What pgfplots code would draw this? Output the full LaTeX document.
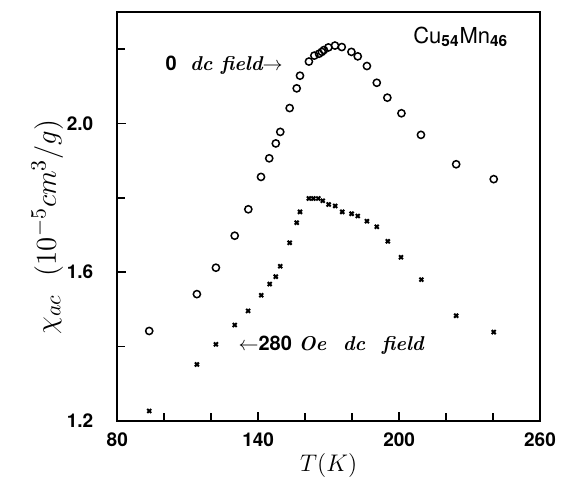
\documentclass[border=0pt]{standalone}
\usepackage{pgfplots}
\pgfplotsset{compat=1.18}
\usepackage{fontspec}
\newfontfamily\hv{TeX Gyre Heros}
\begin{document}
\begin{tikzpicture}
\begin{axis}[
  scale only axis, width=211.4pt, height=204.7pt,
  xmin=80, xmax=260, ymin=1.2, ymax=2.3,
  axis line style={line width=1.1pt},
  xtick={80,140,200,260}, xticklabels={80,140,200,260},
  minor xtick={100,120,160,180,220,240},
  ytick={1.2,1.6,2.0}, yticklabels={1.2,1.6,2.0},
  minor ytick={1.4,1.8,2.2},
  tick align=inside, xtick pos=bottom, ytick pos=left,
  major tick length=4.5pt, minor tick length=4pt,
  every tick/.style={line width=0.8pt, black},
  ticklabel style={font=\hv\bfseries\fontsize{9.5}{10}\selectfont},
  xticklabel style={yshift=-2.5pt},
  yticklabel style={xshift=-8.5pt},
  xlabel={$T(K)$},
  ylabel={$\chi_{ac}\ \ (10^{-5}cm^3/g)$},
  xlabel style={font=\fontsize{13}{15}\selectfont, at={(axis description cs:0.5,0)}, anchor=center, yshift=-22pt},
  ylabel style={font=\fontsize{15.5}{17}\selectfont, at={(axis description cs:-0.1656,0.474)}, anchor=center},
  clip=false,
]
\coordinate (sw) at (rel axis cs:0,0);
\coordinate (ne) at (rel axis cs:1,1);
% zero dc field (circles)
\addplot[only marks, mark=o, mark size=1.8pt, line width=0.75pt, black] coordinates {
(93.6,1.442) (113.9,1.541) (122.0,1.612) (130.0,1.698) (135.8,1.769)
(141.2,1.856) (144.7,1.906) (147.5,1.946) (149.4,1.977) (153.4,2.041)
(156.4,2.094) (157.8,2.128) (161.6,2.166) (163.9,2.182) (165.9,2.187)
(167.1,2.192) (168.0,2.197) (169.9,2.204) (172.7,2.209) (175.6,2.205)
(179.7,2.192) (182.4,2.180) (186.3,2.154) (190.5,2.109) (195.0,2.069)
(201.0,2.027) (209.3,1.969) (224.3,1.890) (240.3,1.850)
};
% 280 Oe dc field (crosses)
\addplot[only marks, mark=x, mark size=1.4pt, line width=1pt, black] coordinates {
(93.6,1.227) (113.9,1.352) (122.0,1.406) (130.0,1.458) (135.7,1.496)
(141.3,1.538) (144.9,1.568) (147.5,1.588) (149.4,1.616) (153.4,1.679)
(156.4,1.733) (157.8,1.762) (161.6,1.798) (163.5,1.798) (165.6,1.798)
(167.5,1.792) (170.0,1.782) (172.8,1.778) (175.8,1.762) (179.8,1.757)
(182.4,1.751) (186.3,1.737) (190.5,1.722) (195.2,1.683) (200.8,1.640)
(209.5,1.580) (224.3,1.483) (240.3,1.439)
};
\node[anchor=east, inner sep=0pt, font=\fontsize{10}{11}\selectfont] at (axis cs:150.6,2.156)
  {{\hv\bfseries 0}\ \ {\bfseries\itshape dc field}$\rightarrow$};
\node[anchor=west, inner sep=0pt, font=\fontsize{10}{11}\selectfont] at (axis cs:131.5,1.404)
  {$\leftarrow${\hv\bfseries 280}\ {\bfseries\itshape Oe\ \ dc\ \ field}};
\node[anchor=base west, inner sep=0pt, font=\hv\fontsize{11}{12}\selectfont] at (axis cs:205.9,2.215)
  {Cu\textsubscript{\bfseries 54}Mn\textsubscript{\bfseries 46}};
\end{axis}
\pgfresetboundingbox
\path[use as bounding box] ([xshift=-58.65pt,yshift=-33pt]sw) rectangle ([xshift=11pt,yshift=5.85pt]ne);
\end{tikzpicture}
\end{document}
